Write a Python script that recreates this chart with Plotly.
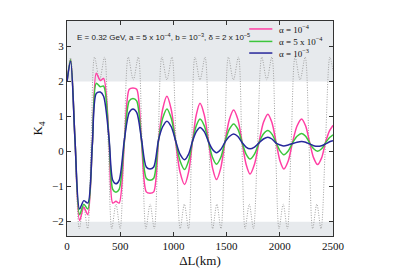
import plotly.graph_objects as go

# ---- data ----
L_col = [0, 34, 75, 118, 158, 195, 238, 275, 313, 344, 395, 430, 460, 490, 540, 585, 620, 655,
         700, 745, 780, 815, 860, 899, 939, 980, 1020, 1062, 1105, 1143, 1180, 1215, 1250, 1290,
         1330, 1368, 1405, 1445, 1485, 1526, 1566, 1606, 1645, 1683, 1720, 1762, 1805, 1846, 1888,
         1926, 1965, 2002, 2038, 2079, 2120, 2162, 2205, 2243, 2280, 2318, 2355, 2393, 2430, 2468, 2500]

k_pink = [2.0, 2.62, 0.35, -1.97, -1.59, -1.80, 0.2, 2.24, 2.03, 2.09, 0.35, -1.47, -1.42, -1.47,
          0.3, 1.78, 1.82, 1.78, 0.3, -1.15, -1.19, -1.15, 0.3, 1.21, 1.58, 1.20, 0.3, -0.58, -0.94,
          -0.58, 0.3, 1.05, 1.38, 1.05, 0.3, -0.47, -0.80, -0.47, 0.28, 0.92, 1.19, 0.92, 0.28, -0.36,
          -0.64, -0.36, 0.27, 0.83, 1.07, 0.83, 0.27, -0.27, -0.50, -0.27, 0.27, 0.73, 0.93, 0.73, 0.27,
          -0.18, -0.37, -0.18, 0.27, 0.60, 0.75]

k_green = [2.0, 2.62, 0.35, -1.80, -1.50, -1.64, 0.2, 1.95, 1.85, 1.87, 0.35, -1.08, -1.16, -1.08,
           0.32, 1.45, 1.52, 1.45, 0.32, -0.76, -0.82, -0.76, 0.32, 0.95, 1.22, 0.95, 0.32, -0.26, -0.51,
           -0.26, 0.3, 0.74, 0.93, 0.74, 0.28, -0.17, -0.36, -0.17, 0.28, 0.64, 0.79, 0.64, 0.27, -0.07,
           -0.21, -0.07, 0.26, 0.50, 0.60, 0.50, 0.26, 0.02, -0.09, 0.02, 0.25, 0.44, 0.52, 0.44, 0.25,
           0.08, 0.01, 0.08, 0.25, 0.40, 0.48]

k_blue = [2.0, 2.58, 0.35, -1.64, -1.40, -1.47, 0.2, 1.66, 1.70, 1.58, 0.38, -0.82, -0.92, -0.82,
          0.36, 1.12, 1.22, 1.12, 0.36, -0.44, -0.50, -0.44, 0.33, 0.71, 0.87, 0.71, 0.32, -0.07, -0.23,
          -0.07, 0.3, 0.57, 0.69, 0.57, 0.28, 0.06, -0.03, 0.06, 0.27, 0.43, 0.50, 0.43, 0.26, 0.13,
          0.08, 0.13, 0.25, 0.36, 0.41, 0.36, 0.24, 0.19, 0.16, 0.19, 0.23, 0.27, 0.29, 0.27, 0.22,
          0.17, 0.15, 0.17, 0.22, 0.28, 0.31]

L_dot = [0, 34, 75, 116, 155, 194, 226, 259, 306, 353, 387, 421, 460, 499, 536, 576, 623, 670,
         706, 742, 781, 820, 856, 892, 939, 986, 1025, 1064, 1103, 1142, 1172, 1203, 1250, 1297,
         1333, 1369, 1408, 1447, 1482, 1517, 1564, 1611, 1643, 1674, 1713, 1752, 1791, 1831, 1878,
         1925, 1959, 1993, 2032, 2071, 2107, 2144, 2191, 2238, 2274, 2309, 2348, 2387, 2429, 2471, 2500]

k_dot = [2.0, 2.68, 0.3, -2.2, -1.55, -2.2, 0.25, 2.7, 2.05, 2.7, 0.25, -2.2, -1.5, -2.2, 0.25,
         2.7, 2.05, 2.7, 0.25, -2.2, -1.5, -2.2, 0.25, 2.7, 2.05, 2.7, 0.25, -2.2, -1.5, -2.2, 0.25,
         2.7, 2.05, 2.7, 0.25, -2.2, -1.5, -2.2, 0.25, 2.7, 2.05, 2.7, 0.25, -2.2, -1.5, -2.2, 0.25,
         2.7, 2.05, 2.7, 0.25, -2.2, -1.5, -2.2, 0.25, 2.7, 2.05, 2.7, 0.25, -2.2, -1.5, -2.2, 0.25,
         2.7, 2.3]

names = ["α = 10<sup>−4</sup>", "α = 5 x 10<sup>−4</sup>", "α = 10<sup>−3</sup>"]
colors = ["#ff3fa4", "#3cc63c", "#27279b"]

y_min, y_max = -2.41, 3.73
x_min, x_max = 0, 2500

fig = go.Figure()

fig.add_trace(go.Scatter(x=L_dot, y=k_dot, mode="lines",
                         line=dict(color="#a0a0a0", width=1, dash="1px,1.5px", shape="spline", smoothing=0.9),
                         showlegend=False, hoverinfo="skip"))
for ys, nm, c in zip([k_pink, k_green, k_blue], names, colors):
    fig.add_trace(go.Scatter(x=L_col, y=ys, mode="lines", name=nm, showlegend=False,
                             line=dict(color=c, width=1.5, shape="spline", smoothing=0.8)))

# shaded bands beyond |K4| = 2
fig.add_shape(type="rect", xref="x", yref="y", x0=x_min, x1=x_max, y0=2, y1=y_max,
              fillcolor="#e7eaed", line_width=0, layer="below")
fig.add_shape(type="rect", xref="x", yref="y", x0=x_min, x1=x_max, y0=y_min, y1=-2,
              fillcolor="#e7eaed", line_width=0, layer="below")

fig.add_annotation(text="E = 0.32 GeV, a = 5 x 10<sup>−4</sup>, b = 10<sup>−3</sup>, δ = 2 x 10<sup>−5</sup>",
                   xref="paper", yref="paper", x=0.03, y=0.925, xanchor="left", yanchor="middle",
                   showarrow=False, font=dict(family="Liberation Sans", size=8, color="#222"))

serif = "Liberation Serif"

# legend (drawn manually to match the compact spacing)
leg_y = [0.963, 0.905, 0.851]
for nm, c, yy in zip(names, colors, leg_y):
    fig.add_shape(type="line", xref="paper", yref="paper", x0=0.685, x1=0.772, y0=yy, y1=yy,
                  line=dict(color=c, width=1.5))
    fig.add_annotation(text=nm, xref="paper", yref="paper", x=0.789, y=yy, xanchor="left",
                       yanchor="middle", showarrow=False,
                       font=dict(family=serif, size=9, color="#111"))

fig.update_layout(
    width=399, height=279,
    margin=dict(l=59, r=74, t=13, b=51, autoexpand=False),
    paper_bgcolor="white", plot_bgcolor="white",
    showlegend=False,
    xaxis=dict(range=[x_min, x_max], tickvals=[0, 500, 1000, 1500, 2000, 2500], automargin=False,
               ticks="inside", ticklen=4, tickcolor="#333", showgrid=False, zeroline=False,
               showline=True, linecolor="#333", linewidth=1, mirror="allticks",
               tickfont=dict(family=serif, size=11, color="#111"),
               title=dict(text="ΔL(km)", font=dict(family=serif, size=13, color="#111"), standoff=4)),
    yaxis=dict(range=[y_min, y_max], tickvals=[-2, -1, 0, 1, 2, 3], ticktext=["−2", "−1", "0", "1", "2", "3"],
               automargin=False,
               ticks="inside", ticklen=4, tickcolor="#333", showgrid=False, zeroline=False,
               showline=True, linecolor="#333", linewidth=1, mirror="allticks",
               tickfont=dict(family=serif, size=11, color="#111"),
               title=dict(text="K<sub>4</sub>", font=dict(family=serif, size=13, color="#111"), standoff=6)),
)

fig.write_html("out.html")
